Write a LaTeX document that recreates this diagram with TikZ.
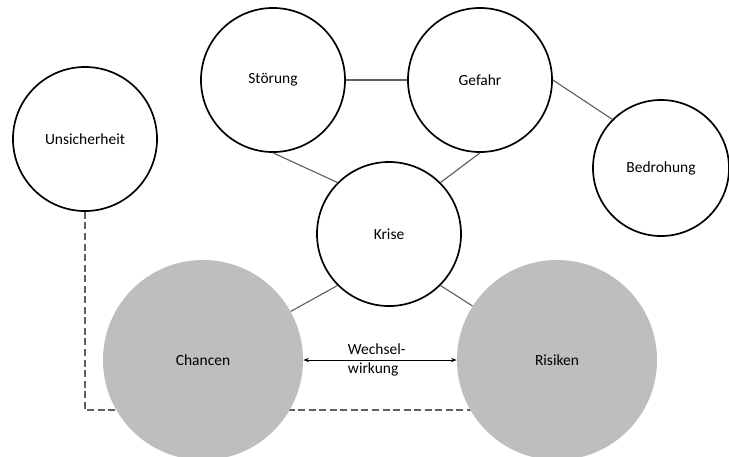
\documentclass[tikz,border=0pt]{standalone}
\usepackage{fontspec}
\setmainfont{Carlito}
\usetikzlibrary{arrows.meta,backgrounds}

\definecolor{chancegray}{RGB}{190,190,190}
\definecolor{linkgray}{RGB}{95,95,95}

\tikzset{
    term/.style={circle, draw=black, line width=1.2pt, fill=white,
        minimum size=3.6cm, inner sep=0pt},
    pole/.style={circle, fill=chancegray, minimum size=5cm, inner sep=0pt},
    link/.style={draw=linkgray, line width=0.8pt}
}

\begin{document}
\begin{tikzpicture}[x=0.025cm, y=-0.025cm, font=\fontsize{11}{13.5}\selectfont]
    \useasboundingbox (0,0) rectangle (729,456);

    % Begriffe (weiss)
    \node[term] (unsicherheit) at (85,139) {Unsicherheit};
    \node[term] (stoerung) at (273,80) {Störung};
    \node[term] (gefahr) at (480,80) {Gefahr};
    \node[term, minimum size=3.4cm] (bedrohung) at (661,168) {Bedrohung};
    \node[term] (krise) at (389,234) {Krise};

    % Chancen und Risiken (grau)
    \node[pole] (chancen) at (203,360) {Chancen};
    \node[pole] (risiken) at (557,360) {Risiken};

    % Verbindungen
    \draw[link] (stoerung) -- (gefahr);
    \draw[link] (gefahr.east) -- (bedrohung.north west);
    \draw[link] (stoerung.south) -- (krise.north west);
    \draw[link] (gefahr.south) -- (krise.north east);
    \draw[link] (krise.south west) -- (chancen);
    \draw[link] (krise.south east) -- (risiken);

    % Wechselwirkung
    \draw[{Stealth[length=4pt,width=3pt]}-{Stealth[length=4pt,width=3pt]}, line width=0.6pt]
        (chancen.east) -- (risiken.west);
    \node[anchor=west, align=left] (wechsel) at (343,360) {Wechsel-\\wirkung};

    % Unsicherheit gestrichelt hinter Chancen/Risiken
    \coordinate (dashlevel) at (0,410);
    \begin{scope}[on background layer]
        \draw[linkgray, line width=0.8pt, dash pattern=on 5pt off 2.5pt]
            (unsicherheit.south) |- (risiken.center |- dashlevel);
    \end{scope}
\end{tikzpicture}
\end{document}
